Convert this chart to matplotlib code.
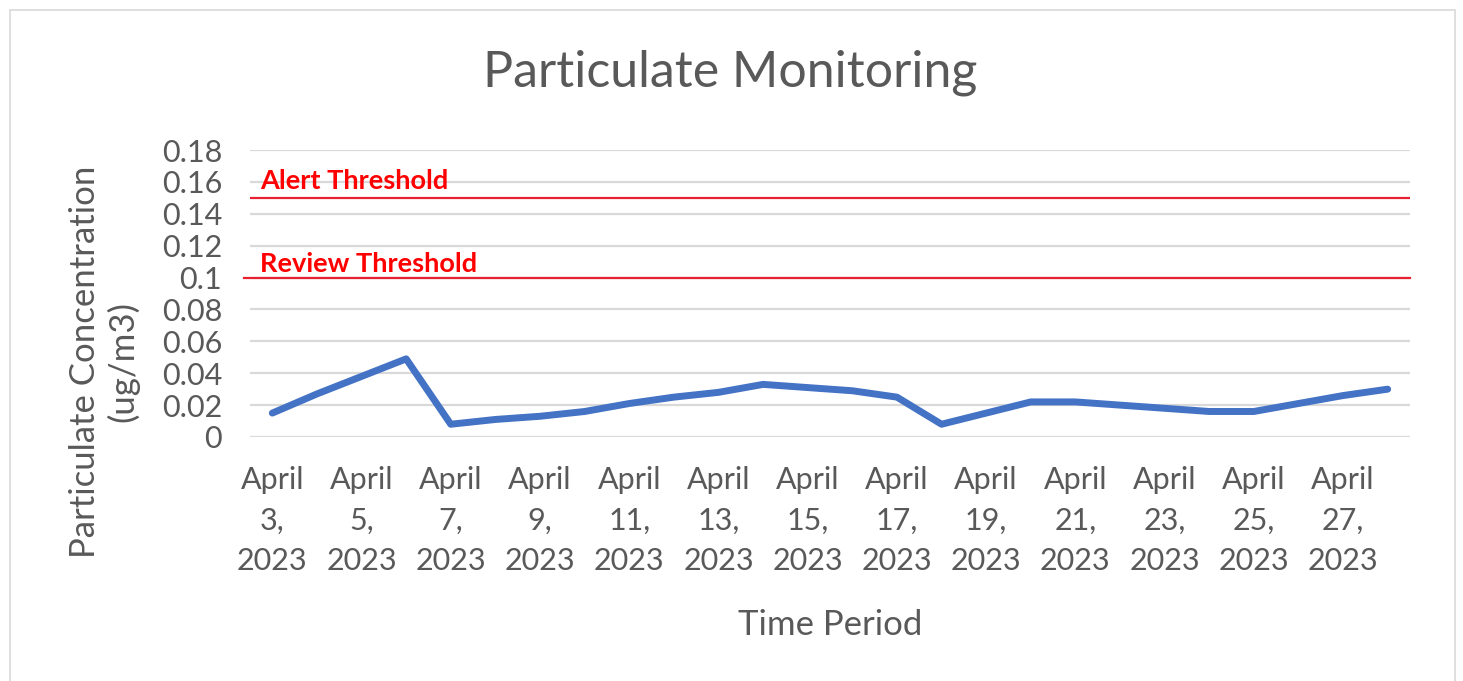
import matplotlib
matplotlib.use("Agg")
import matplotlib.pyplot as plt
from matplotlib.patches import Rectangle

# data
days = list(range(3, 29))
concentration = [0.015, 0.027, 0.038, 0.049, 0.008, 0.011, 0.013, 0.016,
                 0.021, 0.025, 0.028, 0.033, 0.031, 0.029, 0.025, 0.008,
                 0.015, 0.022, 0.022, 0.020, 0.018, 0.016, 0.016, 0.021,
                 0.026, 0.030]
alert_threshold = 0.15
review_threshold = 0.10
y_ticks = [0, 0.02, 0.04, 0.06, 0.08, 0.1, 0.12, 0.14, 0.16, 0.18]
y_tick_labels = ['0', '0.02', '0.04', '0.06', '0.08', '0.1', '0.12', '0.14', '0.16', '0.18']

plt.rcParams['font.family'] = ['Lato', 'DejaVu Sans']
text_grey = '#595959'

fig = plt.figure(figsize=(14.63, 6.81), dpi=100)
fig.patches.append(Rectangle((10 / 1463, -0.01), 1445 / 1463, 1 - 10 / 681 + 0.01,
                             transform=fig.transFigure, fill=False,
                             edgecolor='#d9d9d9', linewidth=1.2))

ax = fig.add_axes([250 / 1463, 1 - 437 / 681, 1160 / 1463, 287 / 681])
x = list(range(len(days)))
ax.plot(x, concentration, color='#4472c4', linewidth=5, solid_joinstyle='round',
        solid_capstyle='round', zorder=3)

ax.axhline(alert_threshold, color='#e8202f', linewidth=1.6, zorder=2)
ax.axhline(review_threshold, xmin=-0.005, color='#e8202f', linewidth=1.6,
           clip_on=False, zorder=2)
ax.text(-0.28, 0.1605, 'Alert Threshold', color='#ff0000', fontsize=19.5,
        fontweight='bold', va='center', ha='left')
ax.text(-0.28, 0.1085, 'Review Threshold', color='#ff0000', fontsize=19.5,
        fontweight='bold', va='center', ha='left')

ax.set_xlim(-0.5, len(days) - 0.5)
ax.set_ylim(0, 0.18)
ax.set_yticks(y_ticks)
ax.set_yticklabels(y_tick_labels)
ax.set_xticks(x[::2])
ax.set_xticklabels([f'April\n{d},\n2023' for d in days[::2]], linespacing=1.55)
ax.grid(axis='y', color='#d9d9d9', linewidth=1.6)
ax.set_axisbelow(True)
for s in ax.spines.values():
    s.set_visible(False)
ax.tick_params(axis='both', length=0, labelsize=22, labelcolor=text_grey)
ax.tick_params(axis='x', pad=21)
ax.tick_params(axis='y', pad=20)

fig.text(730 / 1463, 1 - 73 / 681, 'Particulate Monitoring', ha='center',
         va='center', fontsize=36, color=text_grey)
fig.text(830 / 1463, 1 - 625 / 681, 'Time Period', ha='center', va='center',
         fontsize=25, color=text_grey)
fig.text(104 / 1463, 1 - 362 / 681, 'Particulate Concentration\n(ug/m3)',
         rotation=90, ha='center', va='center', multialignment='center',
         fontsize=25, color=text_grey, linespacing=1.2)

fig.savefig('out.png', dpi=100)
